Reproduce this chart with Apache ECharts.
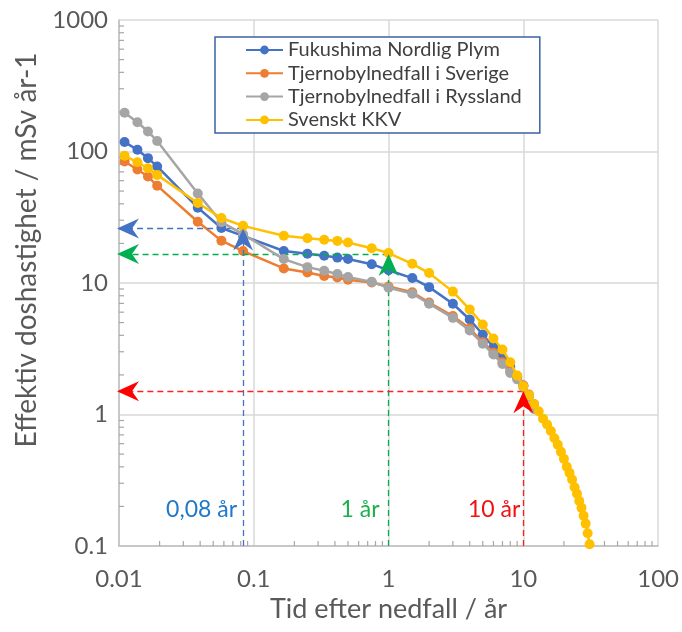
<!DOCTYPE html>
<html><head><meta charset="utf-8">
<script src="https://cdn.jsdelivr.net/npm/echarts@6/dist/echarts.min.js"></script>
<style>html,body{margin:0;padding:0;background:#fff}#c{width:682px;height:632px}</style>
</head><body><div id="c"></div>
<script>
// Tid efter nedfall (år)
const tider = [0.011,0.0137,0.0164,0.0192,0.0384,0.0575,0.0833,0.167,0.25,0.333,0.417,0.5,0.75,1,1.5,2,3,4,5,6,7,8,9,10,11,12,13,14,15,16,17,18,19,20,21,22,23,24,25,26,27,28,29,30,31];
// Effektiv doshastighet (mSv/år)
const fukushima = [118,103,89,77,37.4,26.2,22.8,17.5,16.7,16.1,15.6,15.2,13.9,12.5,10.9,9.3,6.95,5.28,4.06,3.25,2.69,2.3,1.95,1.66];
const sverige = [84,73,64.5,55,29.2,21,17.5,12.9,12.0,11.3,11.0,10.6,10.1,9.4,8.5,7.1,5.6,4.5,3.55,2.95,2.5,2.13,1.9,1.66,1.42,1.2];
const ryssland = [197,167,142,120,48,29,23.5,15.2,13.2,12.4,11.7,11.1,10.2,9.2,8.3,6.95,5.43,4.35,3.45,2.86,2.42,2.07,1.85,1.62,1.35,1.1];
const kkv = [93,82.8,74.6,66.4,40.6,31.2,27.2,22.9,21.9,21.3,20.9,20.3,18.4,16.9,14.0,11.9,8.6,6.3,4.84,3.78,3.12,2.5,1.98,1.64,1.40,1.20,1.06,0.93,0.84,0.75,0.66,0.59,0.52,0.46,0.40,0.36,0.32,0.28,0.25,0.22,0.195,0.17,0.148,0.125,0.103];
const seriesNames = ['Fukushima Nordlig Plym','Tjernobylnedfall i Sverige','Tjernobylnedfall i Ryssland','Svenskt KKV'];
// Referenslinjer
const refTid = [0.0833, 1, 10];
const refDos = [26, 16.6, 1.5];
const refText = ['0,08 år', '1 år', '10 år'];

const colors = ['#4472C4','#ED7D31','#A5A5A5','#FFC000'];
const refLineColors = ['#4472C4','#00B050','#FF2020'];
const refArrowColors = ['#4472C4','#00B050','#FF0000'];
const refTextColors = ['#1F78C8','#1DB04A','#F01010'];
const refTextDist = [6, 9, 3];
const FONT = 'Lato';

function zip(vals){ return vals.map((v,i)=>[tider[i], v]); }

// minor ticks (axis decoration)
const minorTicks = [];
[0.01,0.1,1,10].forEach(d=>{ for(let k=2;k<=9;k++) minorTicks.push([k*d, 0.1, 0]); });
[0.1,1,10,100].forEach(d=>{ for(let k=2;k<=9;k++) minorTicks.push([0.01, k*d, 1]); });

const fmt = v => String(parseFloat(Number(v).toPrecision(6)));

const dataSeries = [fukushima, sverige, ryssland, kkv].map((vals,i)=>({
  type:'line', name: seriesNames[i], data: zip(vals),
  symbol:'circle', symbolSize:10, showSymbol:true,
  lineStyle:{color:colors[i], width:2.5},
  itemStyle:{color:colors[i]},
  z: 3+i
}));

const refLines = [];
refTid.forEach((t,i)=>{
  const ls = {color:refLineColors[i], width:1.3, type:[6,4]};
  refLines.push([{coord:[t, refDos[i]], lineStyle:ls}, {coord:[0.01, refDos[i]]}]);
  refLines.push([{coord:[t, 0.1], lineStyle:ls}, {coord:[t, refDos[i]]}]);
});

// arrow heads: [x, y, direction(0=left,1=up), colour index]
const arrowData = [];
refTid.forEach((t,i)=>{ arrowData.push([0.01, refDos[i], 0, i]); arrowData.push([t, refDos[i], 1, i]); });

const option = {
  animation:false,
  textStyle:{fontFamily:FONT},
  grid:{left:119, right:23, top:20, bottom:86, containLabel:false},
  xAxis:{
    type:'log', logBase:10, min:0.01, max:100,
    name:'Tid efter nedfall / år', nameLocation:'middle', nameGap:50,
    nameTextStyle:{fontSize:27, color:'#595959', fontFamily:FONT},
    axisLine:{show:true, lineStyle:{color:'#BFBFBF', width:1.5}},
    axisTick:{show:false},
    axisLabel:{fontSize:24, color:'#595959', margin:21, formatter:fmt, fontFamily:FONT},
    splitLine:{show:true, lineStyle:{color:'#D9D9D9', width:1.5}}
  },
  yAxis:{
    type:'log', logBase:10, min:0.1, max:1000,
    name:'Effektiv doshastighet / mSv år-1', nameLocation:'middle', nameGap:70,
    nameTextStyle:{fontSize:28, color:'#595959', fontFamily:FONT, padding:[0,0,0,66]},
    axisLine:{show:true, lineStyle:{color:'#BFBFBF', width:1.5}},
    axisTick:{show:false},
    axisLabel:{fontSize:24, color:'#595959', margin:11, formatter:fmt, fontFamily:FONT},
    splitLine:{show:true, lineStyle:{color:'#D9D9D9', width:1.5}}
  },
  legend:{
    data: seriesNames, orient:'vertical', left:215, top:37,
    padding:[3,18,3,30], itemGap:3.3, itemWidth:37, itemHeight:11,
    backgroundColor:'#fff', borderColor:'#3A62A7', borderWidth:1.5,
    textStyle:{fontSize:20, color:'#404040', lineHeight:20, fontFamily:FONT},
    z:20
  },
  series:[
    {
      type:'custom', name:'ticks', silent:true, z:1,
      data: minorTicks,
      renderItem:function(params, api){
        const p = api.coord([api.value(0), api.value(1)]);
        const d = api.value(2);
        const len = 5;
        return {type:'line', shape: d===0 ? {x1:p[0], y1:p[1], x2:p[0], y2:p[1]-len} : {x1:p[0], y1:p[1], x2:p[0]+len, y2:p[1]},
          style:{stroke:'#A6A6A6', lineWidth:1.2}};
      }
    },
    ...dataSeries,
    {
      type:'line', name:'ref', data:[], z:10, silent:true,
      markLine:{
        silent:true, animation:false,
        symbol:['none','none'],
        label:{show:false},
        data: refLines
      },
      markPoint:{
        silent:true, animation:false,
        symbol:'rect', symbolSize:0.1, itemStyle:{color:'rgba(0,0,0,0)'},
        label:{show:true, position:'left', formatter:'{b}', fontSize:23, fontFamily:FONT},
        data: refText.map((t,i)=>({name:t, coord:[refTid[i], 0.19], label:{color:refTextColors[i], distance:refTextDist[i]}}))
      }
    },
    {
      type:'custom', name:'pilar', silent:true, z:12, clip:false,
      data: arrowData,
      renderItem:function(params, api){
        const p = api.coord([api.value(0), api.value(1)]);
        const dir = api.value(2);
        const col = refArrowColors[api.value(3)];
        const L = 22, W = 10, N = 15;
        let pts;
        if (dir === 0) {
          const x = p[0]-2, y = p[1];
          pts = [[x,y],[x+L,y-W],[x+N,y],[x+L,y+W]];
        } else {
          const x = p[0], y = p[1];
          pts = [[x,y],[x+W,y+L],[x,y+N],[x-W,y+L]];
        }
        return {type:'polygon', shape:{points:pts}, style:{fill:col}};
      }
    }
  ]
};
const chart = echarts.init(document.getElementById('c'), null, {renderer:'canvas'});
chart.setOption(option);
</script>
</body></html>
